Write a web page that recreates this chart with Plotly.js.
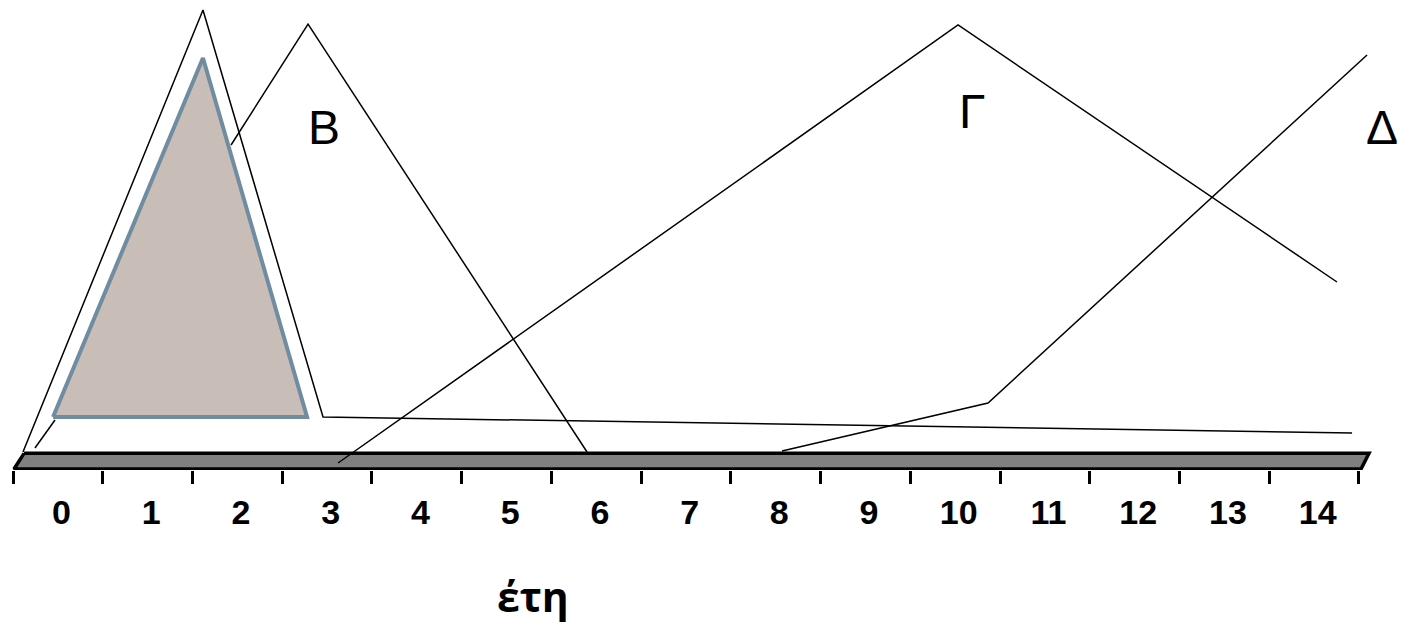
<!DOCTYPE html>
<html>
<head>
<meta charset="utf-8">
<script src="https://cdn.plot.ly/plotly-3.0.1.min.js"></script>
<style>html,body{margin:0;padding:0;background:#fff;}#chart{width:1405px;height:625px;}</style>
</head>
<body>
<div id="chart"></div>
<script>
// Years axis
var years = [0,1,2,3,4,5,6,7,8,9,10,11,12,13,14];
var yearLabels = ["0","1","2","3","4","5","6","7","8","9","10","11","12","13","14"];
var boundaries = [-0.5,0.5,1.5,2.5,3.5,4.5,5.5,6.5,7.5,8.5,9.5,10.5,11.5,12.5,13.5,14.5];

// Time bar (parallelogram)
var barX = [-0.377, 14.612, 14.523, -0.489, -0.377];
var barY = [3.55, 3.55, 0.21, 0.21, 3.55];

// Shaded triangle (A)
var shadeX = [-0.054, 1.617, 2.777, -0.054];
var shadeY = [11.28, 87.66, 11.28, 11.28];

// Outer outline A
var outerX = [-0.389, 1.617, 2.955, 14.423];
var outerY = [3.83, 97.87, 11.28, 7.87];

// Short segment at left
var shortX = [-0.032, -0.255];
var shortY = [10.64, 4.68];

// Curve B
var bX = [1.930, 2.788, 5.897];
var bY = [69.15, 94.89, 3.83];

// Curve Γ
var gX = [3.122, 10.032, 14.255];
var gY = [1.49, 94.68, 40.0];

// Curve Δ
var dX = [8.070, 10.366, 14.590];
var dY = [4.04, 14.26, 88.30];

// Labels
var labelText = ["Β", "Γ", "Δ"];
var labelX = [2.966, 10.188, 14.757];
var labelY = [72.87, 76.28, 72.87];

var lineStyle = {color: "#000000", width: 1.5};

var traces = [
  {x: barX, y: barY, mode: "lines", fill: "toself", fillcolor: "#808080",
   line: {color: "#000000", width: 3.5}, hoverinfo: "skip", showlegend: false},
  {x: shadeX, y: shadeY, mode: "lines", fill: "toself", fillcolor: "#c9bdb8",
   line: {color: "#6f8ca0", width: 4}, hoverinfo: "skip", showlegend: false},
  {x: outerX, y: outerY, mode: "lines", line: lineStyle, showlegend: false},
  {x: shortX, y: shortY, mode: "lines", line: lineStyle, showlegend: false},
  {x: bX, y: bY, mode: "lines", line: lineStyle, showlegend: false},
  {x: gX, y: gY, mode: "lines", line: lineStyle, showlegend: false},
  {x: dX, y: dY, mode: "lines", line: lineStyle, showlegend: false}
];

var annotations = labelText.map(function(t, i) {
  return {x: labelX[i], y: labelY[i], xref: "x", yref: "y", text: t, showarrow: false,
          xanchor: "center", yanchor: "middle",
          font: {family: "Liberation Sans, Arial, sans-serif", size: 48, color: "#000"}};
});
annotations.push({
  x: 533/1405, y: -0.268, xref: "paper", yref: "paper", text: "έτη", showarrow: false,
  xanchor: "center", yanchor: "middle",
  font: {family: "Open Sans, Noto Sans, sans-serif", size: 41, color: "#000", weight: "bold"}
});

var xr = [-0.645, 15.013];
var xr2 = [-0.685, 14.973];
var layout = {
  width: 1405, height: 625,
  margin: {l: 0, r: 0, t: 0, b: 155, pad: 0},
  paper_bgcolor: "#ffffff", plot_bgcolor: "#ffffff",
  showlegend: false,
  xaxis: {range: xr, tickvals: boundaries, ticktext: boundaries.map(function(){return "";}),
          ticks: "outside", ticklen: 13, tickwidth: 3, tickcolor: "#000",
          showticklabels: false, showgrid: false, zeroline: false, showline: false, fixedrange: true},
  xaxis2: {range: xr2, overlaying: "x", side: "bottom", tickvals: years, ticktext: yearLabels,
           ticks: "outside", ticklen: 12, tickcolor: "rgba(0,0,0,0)",
           tickfont: {family: "Liberation Sans, Arial, sans-serif", size: 34, color: "#000", weight: "bold"},
           showgrid: false, zeroline: false, showline: false, fixedrange: true},
  yaxis: {range: [0, 100], visible: false, showgrid: false, zeroline: false, fixedrange: true},
  annotations: annotations
};

// an empty trace so xaxis2 is drawn
traces.push({x: years, y: years.map(function(){return null;}), xaxis: "x2", yaxis: "y",
             mode: "markers", hoverinfo: "skip", showlegend: false});

Plotly.newPlot("chart", traces, layout, {displayModeBar: false, staticPlot: true});
</script>
</body>
</html>
